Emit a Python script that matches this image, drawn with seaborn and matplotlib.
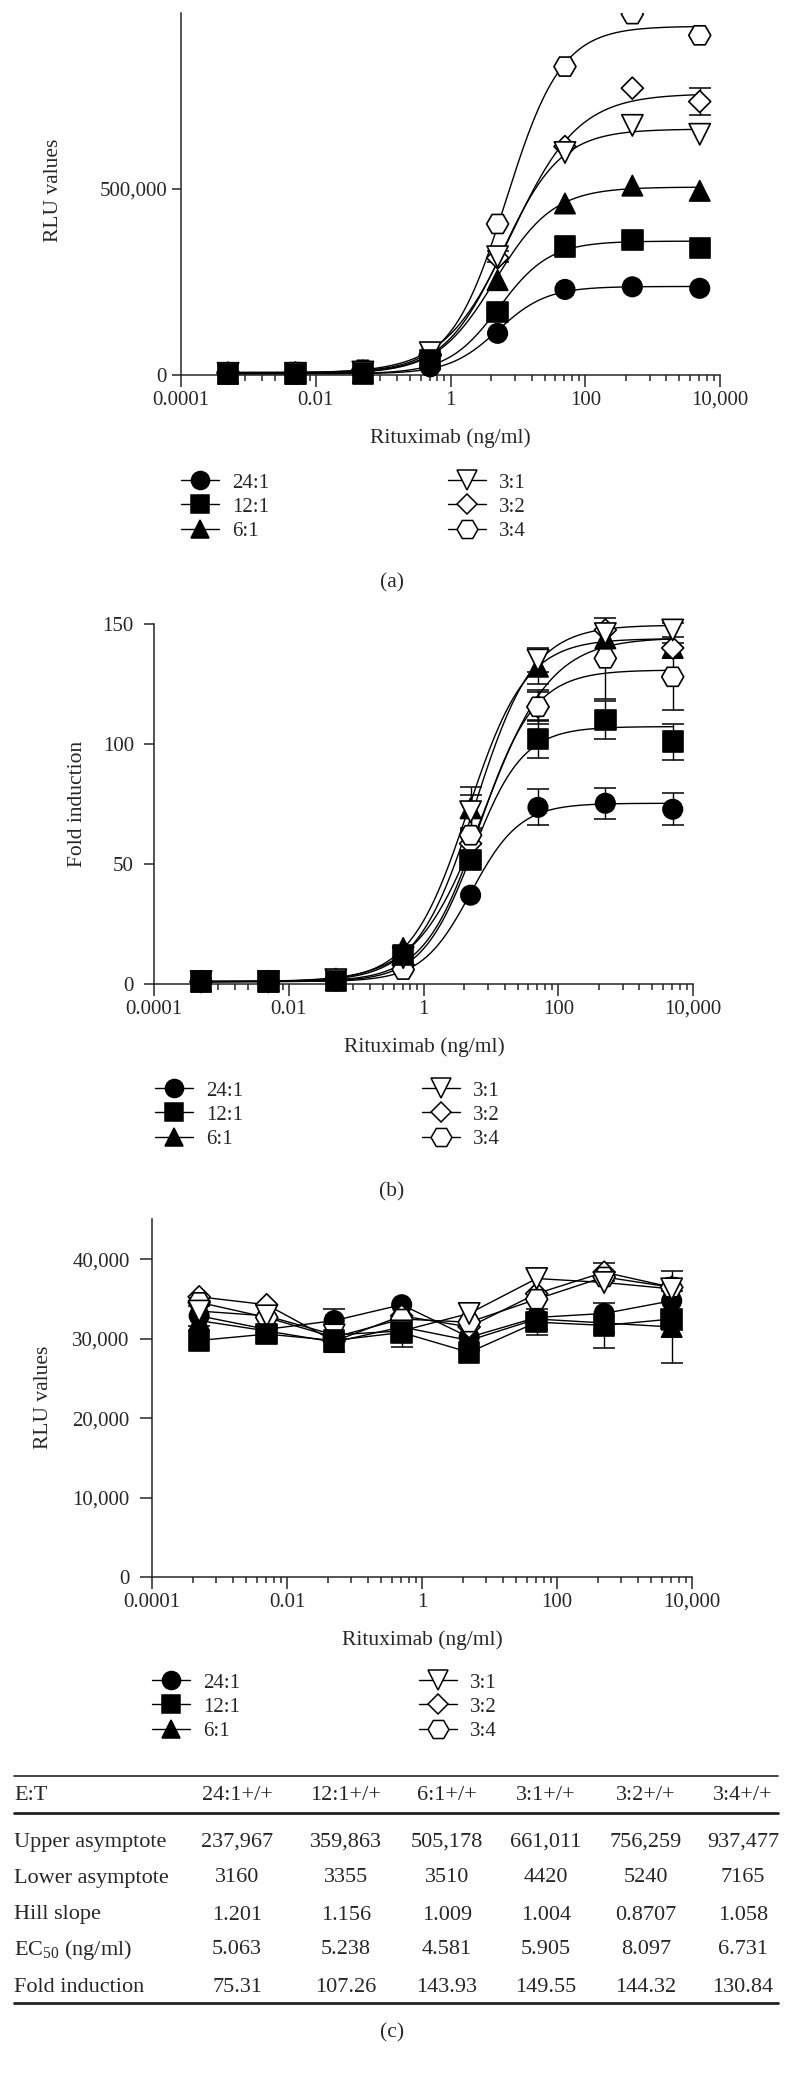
import numpy as np
import pandas as pd
import matplotlib
matplotlib.use("Agg")
import matplotlib.pyplot as plt
from matplotlib.lines import Line2D
from matplotlib.ticker import FixedLocator, NullFormatter, NullLocator
from matplotlib.transforms import Bbox, TransformedBbox
import seaborn as sns

W, H = 792, 2077

# ---- data ----
conc = [0.0005, 0.005, 0.05, 0.5, 5, 50, 500, 5000]   # Rituximab, ng/ml
ratios = ['24:1', '12:1', '6:1', '3:1', '3:2', '3:4']
draw_order = ['24:1', '6:1', '3:2', '3:4', '3:1', '12:1']

# (a) RLU values
rlu_a = {
    '24:1': [3200, 3200, 4000, 22000, 112000, 230000, 237000, 233000],
    '12:1': [3400, 3400, 4500, 40000, 170000, 345000, 363000, 342000],
    '6:1': [3500, 3600, 5500, 45000, 255000, 461000, 509000, 495000],
    '3:1': [4400, 4500, 8000, 60000, 318000, 598000, 671000, 647000],
    '3:2': [5200, 5500, 10000, 52000, 315000, 614000, 771000, 735000],
    '3:4': [7200, 7500, 14000, 55000, 406000, 829000, 970000, 913000],
}
err_a = {
    '24:1': [0, 0, 0, 0, 0, 0, 0, 0],
    '12:1': [0, 0, 0, 0, 0, 0, 0, 0],
    '6:1': [0, 0, 0, 0, 0, 0, 0, 0],
    '3:1': [0, 0, 0, 0, 15000, 0, 0, 0],
    '3:2': [0, 0, 0, 0, 0, 0, 0, 36000],
    '3:4': [0, 0, 0, 0, 0, 0, 0, 0],
}

# (b) fold induction
fold_b = {
    '24:1': [1.0, 1.0, 1.3, 7.5, 37, 73.6, 75.3, 72.8],
    '12:1': [1.0, 1.0, 1.3, 12, 51.7, 102, 110, 101],
    '6:1': [1.0, 1.0, 1.6, 15, 73.2, 132.2, 144, 140],
    '3:1': [1.0, 1.0, 1.8, 11, 71.8, 135, 146, 147.5],
    '3:2': [1.0, 1.0, 1.9, 8, 58.5, 115.5, 147.5, 140],
    '3:4': [1.0, 1.0, 1.9, 6, 62, 115.5, 135.7, 128],
}
err_b = {
    '24:1': [0, 0, 0, 0, 0, 7.5, 6.5, 6.7],
    '12:1': [0, 0, 0, 0, 0, 8, 8, 7.5],
    '6:1': [0, 0, 0, 0, 9, 7, 0, 0],
    '3:1': [0, 0, 0, 0, 7, 5, 0, 3],
    '3:2': [0, 0, 0, 0, 0, 6, 0, 0],
    '3:4': [0, 0, 0, 0, 0, 7, 17, 14],
}

# (c) RLU values, no curve fit
rlu_c = {
    '24:1': [32900, 31200, 32300, 34300, 30200, 32700, 33200, 34800],
    '12:1': [29800, 30600, 29800, 30800, 28300, 32100, 31700, 32500],
    '6:1': [32300, 31000, 29600, 31500, 29800, 32500, 32000, 31500],
    '3:1': [33500, 32900, 30500, 31000, 33200, 37600, 37100, 36300],
    '3:2': [35300, 34300, 29700, 32900, 31500, 35700, 38400, 36500],
    '3:4': [34600, 32700, 30200, 32500, 32100, 35000, 37800, 36500],
}
err_c = {
    '24:1': [1300, 0, 1500, 0, 0, 0, 0, 3700],
    '12:1': [0, 0, 0, 1800, 0, 1600, 2800, 0],
    '6:1': [0, 0, 0, 0, 0, 0, 0, 4500],
    '3:1': [0, 0, 0, 0, 0, 0, 0, 0],
    '3:2': [0, 0, 0, 0, 0, 0, 1100, 0],
    '3:4': [0, 0, 0, 0, 0, 0, 0, 0],
}

# fit table
upper_asym = [237967, 359863, 505178, 661011, 756259, 937477]
lower_asym = [3160, 3355, 3510, 4420, 5240, 7165]
hill_slope = [1.201, 1.156, 1.009, 1.004, 0.8707, 1.058]
ec50 = [5.063, 5.238, 4.581, 5.905, 8.097, 6.731]
fold_induction = [75.31, 107.26, 143.93, 149.55, 144.32, 130.84]
fold_bottom = [1.0, 1.0, 1.0, 1.0, 1.0, 1.0]

xtick_vals = [1e-4, 1e-2, 1, 100, 1e4]
xtick_labels = ['0.0001', '0.01', '1', '100', '10,000']

# ---- styles ----
markers = {'24:1': 'o', '12:1': 's', '6:1': '^', '3:1': 'v', '3:2': 'D', '3:4': 'H'}
face = {'24:1': 'black', '12:1': 'black', '6:1': 'black', '3:1': 'white', '3:2': 'white', '3:4': 'white'}
msize = {'24:1': 196, '12:1': 215, '6:1': 215, '3:1': 235, '3:2': 125, '3:4': 250}
leg_ms = {'24:1': 13, '12:1': 13, '6:1': 13.5, '3:1': 14.5, '3:2': 10, '3:4': 15}

sns.set_style('ticks')
plt.rcParams['font.family'] = ['Liberation Serif', 'DejaVu Serif']
plt.rcParams['mathtext.fontset'] = 'custom'
plt.rcParams['mathtext.rm'] = 'Liberation Serif'
plt.rcParams['mathtext.it'] = 'Liberation Serif:italic'

fig = plt.figure(figsize=(W / 100, H / 100), dpi=100)


def fx(x):
    return x / W


def fy(y):
    return 1 - y / H


def add_ax(left, top, right, bottom):
    return fig.add_axes([fx(left), fy(bottom), (right - left) / W, (bottom - top) / H])


def hill(x, top, bottom, mid, slope):
    return bottom + (top - bottom) / (1 + (mid / x) ** slope)


def long_df(values):
    rows = []
    for r in draw_order:
        for c, v in zip(conc, values[r]):
            rows.append({'conc': c, 'value': v, 'ratio': r})
    return pd.DataFrame(rows)


def fit_df(tops, bottoms):
    xs = np.logspace(np.log10(conc[0]), np.log10(conc[-1]), 300)
    rows = []
    for i, r in enumerate(ratios):
        ys = hill(xs, tops[i], bottoms[i], ec50[i], hill_slope[i])
        rows.append(pd.DataFrame({'conc': xs, 'value': ys, 'ratio': r}))
    return pd.concat(rows)


def draw_panel(ax, values, errs, curve=None, clip_top=False):
    df = long_df(values)
    line_df = curve if curve is not None else df
    sns.lineplot(data=line_df, x='conc', y='value', units='ratio', estimator=None,
                 color='black', lw=1.0, ax=ax, sort=True, zorder=2)
    for r in ratios:
        e = np.array(errs[r], dtype=float)
        keep = e > 0
        if keep.any():
            ax.errorbar(np.array(conc)[keep], np.array(values[r])[keep], yerr=e[keep], fmt='none',
                        ecolor='black', elinewidth=1.0, capsize=8, capthick=1.1, zorder=3, clip_on=False)
    sns.scatterplot(data=df, x='conc', y='value', hue='ratio', palette=face, style='ratio',
                    markers=markers, size='ratio', sizes=msize, edgecolor='black', linewidth=1.2,
                    legend=False, ax=ax, zorder=4)
    pts = ax.collections[-1]
    if clip_top:
        # the top of panel (a) is cut off in the original
        pts.set_clip_path(None)
        pts.set_clip_box(TransformedBbox(Bbox.from_extents(-0.2, -0.3, 1.2, 1.0), ax.transAxes))
    else:
        pts.set_clip_on(False)


def style_axis(ax, ylim, yticks, ylabels, ylen, ypad):
    ax.set_xscale('log')
    ax.set_xlim(1e-4, 1e4)
    ax.set_ylim(*ylim)
    ax.set_xticks(xtick_vals, xtick_labels)
    minor = [m * k ** 2 for m in (1e-4, 1e-2, 1, 100) for k in range(2, 10)]
    ax.xaxis.set_minor_locator(FixedLocator(minor))
    ax.xaxis.set_minor_formatter(NullFormatter())
    ax.set_yticks(yticks, ylabels)
    ax.yaxis.set_minor_locator(NullLocator())
    sns.despine(ax=ax)
    for s in ('left', 'bottom'):
        ax.spines[s].set_linewidth(1.1)
    ax.set_xlabel('')
    ax.set_ylabel('')
    ax.tick_params(axis='x', which='major', length=8.5, width=1.1, pad=3, labelsize=15)
    ax.tick_params(axis='x', which='minor', length=4.5, width=1.1)
    ax.tick_params(axis='y', which='major', length=ylen, width=1.1, pad=ypad, labelsize=15)
    ax.patch.set_alpha(0)


def add_legend(x, y):
    handles = [Line2D([0], [0], color='black', lw=1.0, marker=markers[r], ms=leg_ms[r],
                      mfc=face[r], mec='black', mew=1.1) for r in ratios]
    fig.legend(handles, ratios, ncol=2, loc='upper left', bbox_to_anchor=(fx(x), fy(y)),
               frameon=False, fontsize=15, handlelength=1.8, handletextpad=0.65,
               columnspacing=8.6, labelspacing=0.22, borderpad=0, borderaxespad=0)


# ---- (a) ----
ax_a = add_ax(181, 13, 720, 375)
draw_panel(ax_a, rlu_a, err_a, fit_df(upper_asym, lower_asym), clip_top=True)
style_axis(ax_a, (0, 973000), [0, 500000], ['0', '500,000'], 6.5, 3.5)
fig.text(fx(53), fy(190), 'RLU values', rotation=90, ha='center', va='center', fontsize=15.5)
fig.text(fx(450), fy(438), 'Rituximab (ng/ml)', ha='center', va='center', fontsize=15.5)
add_legend(181, 473)
fig.text(fx(392), fy(583), '(a)', ha='center', va='center', fontsize=15.5)

# ---- (b) ----
ax_b = add_ax(154, 624, 693, 984)
draw_panel(ax_b, fold_b, err_b, fit_df(fold_induction, fold_bottom))
style_axis(ax_b, (0, 150), [0, 50, 100, 150], ['0', '50', '100', '150'], 7.5, 7)
fig.text(fx(78), fy(804), 'Fold induction', rotation=90, ha='center', va='center', fontsize=15.5)
fig.text(fx(424), fy(1047), 'Rituximab (ng/ml)', ha='center', va='center', fontsize=15.5)
add_legend(155, 1081)
fig.text(fx(392), fy(1192), '(b)', ha='center', va='center', fontsize=15.5)

# ---- (c) ----
ax_c = add_ax(152, 1219, 692, 1577)
draw_panel(ax_c, rlu_c, err_c)
style_axis(ax_c, (0, 45100), [0, 10000, 20000, 30000, 40000],
           ['0', '10,000', '20,000', '30,000', '40,000'], 9, 7)
fig.text(fx(44), fy(1397), 'RLU values', rotation=90, ha='center', va='center', fontsize=15.5)
fig.text(fx(422), fy(1640), 'Rituximab (ng/ml)', ha='center', va='center', fontsize=15.5)
add_legend(152, 1673)

# ---- fit table ----
col_x = [237, 346, 447, 546, 646, 743]
row_y = [1842, 1878, 1915, 1950, 1988]
header = [r + '+/+' for r in ratios]
row_names = ['Upper asymptote', 'Lower asymptote', 'Hill slope', 'EC$_{50}$ (ng/ml)', 'Fold induction']
table_rows = [
    [f'{v:,}' for v in upper_asym],
    [str(v) for v in lower_asym],
    [str(v) for v in hill_slope],
    [str(v) for v in ec50],
    [f'{v:.2f}' for v in fold_induction],
]

for yy, lw in ((1776, 1.2), (1813, 2.0), (2003, 2.0)):
    fig.add_artist(Line2D([fx(14), fx(778)], [fy(yy), fy(yy)], color='#222222', lw=lw,
                          transform=fig.transFigure))
fig.text(fx(14), fy(1796), 'E:T', ha='left', va='center', fontsize=16)
for x, h in zip(col_x, header):
    fig.text(fx(x), fy(1796), h, ha='center', va='center', fontsize=16)
for yy, name, vals in zip(row_y, row_names, table_rows):
    fig.text(fx(14), fy(yy), name, ha='left', va='center', fontsize=16)
    for x, v in zip(col_x, vals):
        fig.text(fx(x), fy(yy), v, ha='center', va='center', fontsize=16)
fig.text(fx(392), fy(2033), '(c)', ha='center', va='center', fontsize=15.5)

fig.savefig('out.png', dpi=100)
